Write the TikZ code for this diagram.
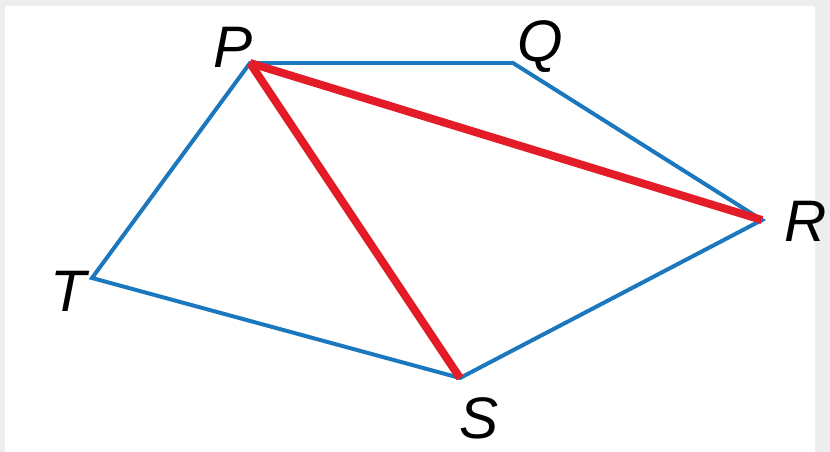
\documentclass[tikz,border=0pt]{standalone}
\usepackage{fontspec}
\setmainfont{Liberation Sans}
\usetikzlibrary{positioning}
\definecolor{edgeblue}{RGB}{28,120,190}
\definecolor{diagred}{RGB}{228,28,40}

\begin{document}
\begin{tikzpicture}[x=0.03cm,y=-0.03cm,
  every node/.style={font=\fontsize{50}{50}\selectfont\itshape,inner sep=0pt},
  side/.style={draw=edgeblue,line width=3.4pt,line join=miter},
  diag/.style={draw=diagred,line width=6.8pt}]
\useasboundingbox (0,0) rectangle (830,452);
\fill[black!7] (0,0) rectangle (830,452);
\fill[white] (5,6) rectangle (815,452);
\coordinate (P) at (250,63);
\coordinate (Q) at (513,63);
\coordinate (R) at (762,220);
\coordinate (S) at (460,378);
\coordinate (T) at (92,278);
\node (lP) at (233,47) {P};
\node (lQ) at (540,47) {Q};
\node (lR) at (806,221) {R};
\node (lS) at (479,418) {S};
\node (lT) at (68,291) {T};
\draw[side] (P)--(Q)--(R)--(S)--(T)--cycle;
\foreach \v in {R,S} {\draw[diag] (P)--(\v);}
\end{tikzpicture}
\end{document}
